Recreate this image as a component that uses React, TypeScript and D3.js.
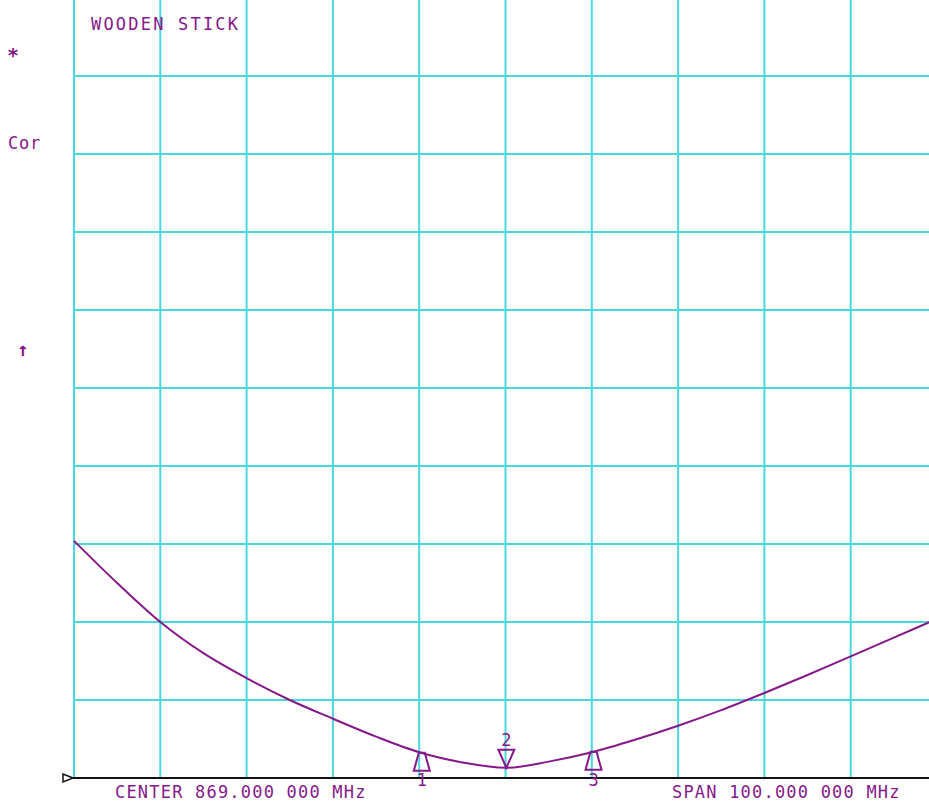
import React, {useEffect, useRef} from "react";
import * as d3 from "d3";

const W = 929;
const H = 805;

// frequency axis (MHz) and trace values (in display divisions above the reference line)
const freqs = [819, 824, 829, 834, 839, 844, 849, 854, 859, 864, 869, 874, 879, 884, 889, 894, 899, 904, 909, 914, 919];
const trace = [3.04, 2.5, 2.0, 1.6, 1.28, 1.0, 0.76, 0.53, 0.33, 0.2, 0.13, 0.21, 0.33, 0.49, 0.67, 0.87, 1.09, 1.32, 1.56, 1.8, 2.04];

const markerIds = ["1", "2", "3"];
const markerFreqs = [859.3, 869.1, 879.2];
const markerDown = [false, true, false];

const gridX = d3.range(819, 920, 10);
const gridY = d3.range(0, 11, 1);

const centerLabel = "CENTER 869.000 000 MHz";
const spanLabel = "SPAN 100.000 000 MHz";
const title = "WOODEN STICK";

const GRID = "#48d8de";
const PURPLE = "#86198a";
const FONT = "'DejaVu Sans Mono', 'Liberation Mono', monospace";

export default function App() {
  const ref = useRef<SVGSVGElement>(null);

  useEffect(() => {
    const svg = d3.select(ref.current);
    svg.selectAll("*").remove();

    const x = d3.scaleLinear().domain([819, 919]).range([74, 937]);
    const y = d3.scaleLinear().domain([0, 10]).range([778, -2]);

    svg.append("rect").attr("width", W).attr("height", H).attr("fill", "#fff");

    // grid
    const g = svg.append("g").attr("stroke", GRID).attr("stroke-width", 2);
    gridX.forEach((f) => {
      g.append("line").attr("x1", x(f)).attr("x2", x(f)).attr("y1", y(10)).attr("y2", y(0));
    });
    gridY.slice(1).forEach((v) => {
      g.append("line").attr("x1", x(819)).attr("x2", x(919)).attr("y1", y(v)).attr("y2", y(v));
    });

    // reference line
    svg.append("line")
      .attr("x1", 70).attr("x2", W)
      .attr("y1", y(0)).attr("y2", y(0))
      .attr("stroke", "#111").attr("stroke-width", 2);
    svg.append("path")
      .attr("d", `M63,${y(0) - 4}L73,${y(0)}L63,${y(0) + 4}Z`)
      .attr("fill", "#fff").attr("stroke", "#111").attr("stroke-width", 1.5);

    // trace
    const line = d3.line<number>()
      .x((_, i) => x(freqs[i]))
      .y((d) => y(d))
      .curve(d3.curveMonotoneX);
    svg.append("path")
      .attr("d", line(trace))
      .attr("fill", "none")
      .attr("stroke", PURPLE)
      .attr("stroke-width", 2);

    const interp = d3.scaleLinear().domain(freqs).range(trace);

    // markers
    markerIds.forEach((id, i) => {
      const mx = x(markerFreqs[i]);
      const my = y(interp(markerFreqs[i]));
      const mg = svg.append("g").attr("fill", "none").attr("stroke", PURPLE).attr("stroke-width", 2);
      if (markerDown[i]) {
        mg.append("path").attr("d", `M${mx},${my}L${mx - 8},${my - 18}L${mx + 8},${my - 18}Z`);
        svg.append("text").attr("x", mx).attr("y", my - 22)
          .attr("text-anchor", "middle").attr("fill", PURPLE)
          .attr("font-family", FONT).attr("font-size", 17).text(id);
      } else {
        mg.append("path").attr("d", `M${mx - 3},${my}L${mx + 3},${my}L${mx + 8},${my + 18}L${mx - 8},${my + 18}Z`);
        svg.append("text").attr("x", mx).attr("y", 786)
          .attr("text-anchor", "middle").attr("fill", PURPLE)
          .attr("font-family", FONT).attr("font-size", 17).text(id);
      }
    });

    // annotations
    const txt = (tx: number, ty: number, s: string, size: number, ls = 0, weight = "normal") =>
      svg.append("text").attr("x", tx).attr("y", ty)
        .attr("fill", PURPLE).attr("font-family", FONT)
        .attr("font-size", size).attr("letter-spacing", ls)
        .attr("font-weight", weight)
        .attr("xml:space", "preserve")
        .text(s);

    txt(91, 30, title, 17, 2.2);
    txt(7, 62, "*", 20, 0, "bold");
    txt(8, 149, "Cor", 17, 0.8);
    txt(17, 356, "↑", 19, 0, "bold");
    txt(115, 798, centerLabel, 17, 1.2);
    txt(672, 798, spanLabel, 17, 1.2);
  }, []);

  return (
    <svg
      ref={ref}
      width={W}
      height={H}
      style={{position: "absolute", left: 0, top: 0}}
    />
  );
}
